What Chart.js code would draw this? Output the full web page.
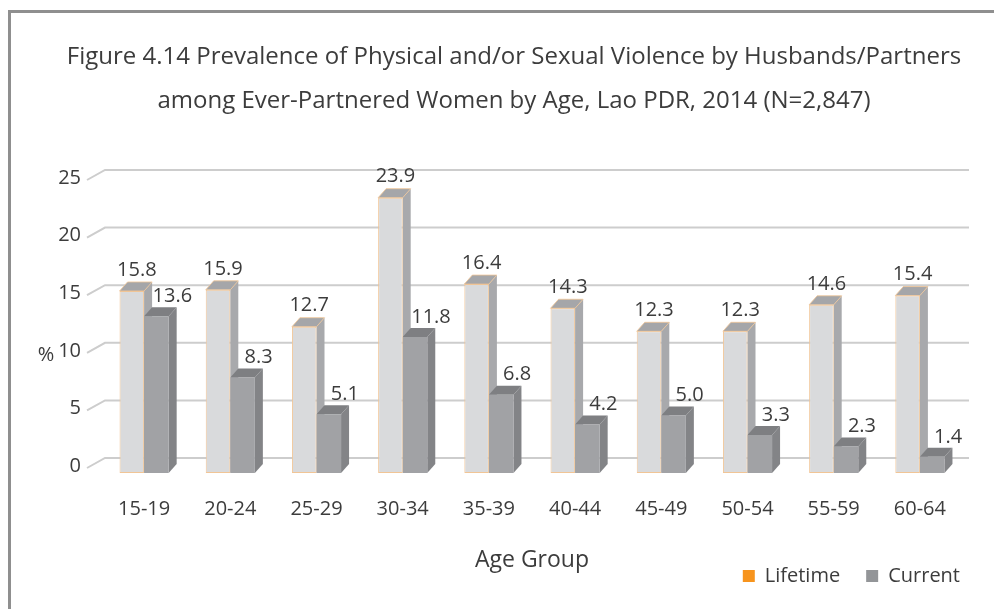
<!DOCTYPE html>
<html>
<head>
<meta charset="utf-8">
<title>Figure 4.14</title>
<script src="https://cdn.jsdelivr.net/npm/chart.js@4.4.1/dist/chart.umd.min.js"></script>
<style>
  html, body { margin: 0; padding: 0; background: #fff; }
  #wrap { position: relative; width: 994px; height: 609px; overflow: hidden; }
  #frame { position: absolute; left: 8px; top: 10px; width: 1000px; height: 620px;
           border-left: 3px solid #8f8f8f; border-top: 3px solid #8f8f8f; pointer-events: none; }
</style>
</head>
<body>
<div id="wrap">
  <canvas id="chart" width="994" height="609"></canvas>
  <div id="frame"></div>
</div>
<script>
/* data */
const AGE_GROUPS = ["15-19","20-24","25-29","30-34","35-39","40-44","45-49","50-54","55-59","60-64"];
const LIFETIME = [15.8, 15.9, 12.7, 23.9, 16.4, 14.3, 12.3, 12.3, 14.6, 15.4];
const CURRENT  = [13.6,  8.3,  5.1, 11.8,  6.8,  4.2,  5.0,  3.3,  2.3,  1.4];
const Y_TICKS  = [0, 5, 10, 15, 20, 25];

const TITLE = [
  "Figure 4.14 Prevalence of Physical and/or Sexual Violence by Husbands/Partners",
  "among Ever-Partnered Women by Age, Lao PDR, 2014 (N=2,847)"
];

const TEXT = "#3c3c3c";
const FONT = "'Open Sans', 'Noto Sans', sans-serif";
Chart.defaults.font.family = FONT;
Chart.defaults.color = TEXT;

/* fake 3D: side/top faces behind the bars, slanted back-wall grid, value labels */
const DEPTH_X = 8, DEPTH_Y = 9;
const threeD = {
  id: "threeD",
  beforeDatasetsDraw(chart) {
    const { ctx, chartArea: a, scales: { y } } = chart;
    ctx.save();
    ctx.strokeStyle = "#cdcdcd";
    ctx.lineWidth = 2;
    Y_TICKS.forEach(v => {
      const yb = y.getPixelForValue(v) - 15;
      ctx.beginPath();
      ctx.moveTo(a.left - 14, yb + 10);
      ctx.lineTo(a.left + 4, yb);
      ctx.lineTo(a.right + 6, yb);
      ctx.stroke();
    });
    chart.data.datasets.forEach((ds, di) => {
      chart.getDatasetMeta(di).data.forEach(el => {
        const { x, y: top, base, width } = el.getProps(["x", "y", "base", "width"], true);
        const xl = x - width / 2, xr = x + width / 2;
        ctx.fillStyle = ds.sideColor;
        ctx.beginPath();
        ctx.moveTo(xr, top);
        ctx.lineTo(xr + DEPTH_X, top - DEPTH_Y);
        ctx.lineTo(xr + DEPTH_X, base - DEPTH_Y);
        ctx.lineTo(xr, base);
        ctx.closePath();
        ctx.fill();
        ctx.fillStyle = ds.topColor;
        ctx.beginPath();
        ctx.moveTo(xl, top);
        ctx.lineTo(xl + DEPTH_X, top - DEPTH_Y);
        ctx.lineTo(xr + DEPTH_X, top - DEPTH_Y);
        ctx.lineTo(xr, top);
        ctx.closePath();
        ctx.fill();
        if (ds.edgeColor) {
          ctx.strokeStyle = ds.edgeColor;
          ctx.lineWidth = 0.8;
          ctx.stroke();
        }
      });
    });
    ctx.restore();
  },
  afterDatasetsDraw(chart) {
    const { ctx } = chart;
    ctx.save();
    ctx.font = "20px " + FONT;
    ctx.fillStyle = TEXT;
    ctx.textAlign = "center";
    ctx.textBaseline = "middle";
    chart.data.datasets.forEach((ds, di) => {
      chart.getDatasetMeta(di).data.forEach((el, i) => {
        const { x, y } = el.getProps(["x", "y"], true);
        ctx.fillText(ds.data[i].toFixed(1), x + ds.labelDx, y - ds.labelDy);
      });
    });
    ctx.fillText("%", 46, 355);
    ctx.restore();
  }
};

new Chart(document.getElementById("chart"), {
  type: "bar",
  data: {
    labels: AGE_GROUPS,
    datasets: [
      {
        label: "Lifetime",
        data: LIFETIME,
        backgroundColor: "#d9dadc",
        borderColor: "#f1c596",
        borderWidth: 1,
        borderSkipped: false,
        sideColor: "#a8a9ac",
        topColor: "#a5a6a9",
        edgeColor: "#f1c596",
        legendColor: "#f7941d",
        labelDx: 5, labelDy: 21
      },
      {
        label: "Current",
        data: CURRENT,
        backgroundColor: "#a1a2a5",
        borderWidth: 0,
        sideColor: "#838487",
        topColor: "#7e7f82",
        legendColor: "#939598",
        labelDx: 16, labelDy: 20
      }
    ]
  },
  options: {
    responsive: false,
    animation: false,
    layout: { padding: { left: 42, right: 8, top: 10, bottom: 13 } },
    datasets: { bar: { categoryPercentage: 0.57, barPercentage: 1 } },
    plugins: {
      title: {
        display: true,
        text: TITLE,
        color: TEXT,
        font: { size: 24, weight: "normal", lineHeight: "44px" },
        padding: { top: 25, bottom: 62 }
      },
      legend: {
        position: "bottom",
        align: "end",
        labels: {
          color: TEXT,
          font: { size: 20 },
          boxWidth: 12,
          boxHeight: 12,
          padding: 26,
          generateLabels: chart => chart.data.datasets.map((ds, i) => ({
            text: ds.label,
            fillStyle: ds.legendColor,
            strokeStyle: ds.legendColor,
            lineWidth: 0,
            fontColor: TEXT,
            datasetIndex: i
          }))
        }
      },
      tooltip: { enabled: false }
    },
    scales: {
      x: {
        grid: { display: false, drawTicks: false },
        border: { display: false },
        ticks: { padding: 24, font: { size: 20 }, color: TEXT },
        title: { display: true, text: "Age Group", color: TEXT, font: { size: 23 }, padding: { top: 0, bottom: -34 } },
        afterFit: s => { s.height = 67; }
      },
      y: {
        min: 0,
        max: 25,
        grid: { display: false, drawTicks: false },
        border: { display: false },
        ticks: { stepSize: 5, padding: 20, labelOffset: -7, font: { size: 20 }, color: TEXT },
        afterFit: s => { s.width = 59; }
      },
      yR: {
        position: "right",
        display: true,
        grid: { display: false, drawTicks: false },
        border: { display: false },
        ticks: { display: false },
        afterFit: s => { s.width = 23; }
      }
    }
  },
  plugins: [threeD]
});
</script>
</body>
</html>
